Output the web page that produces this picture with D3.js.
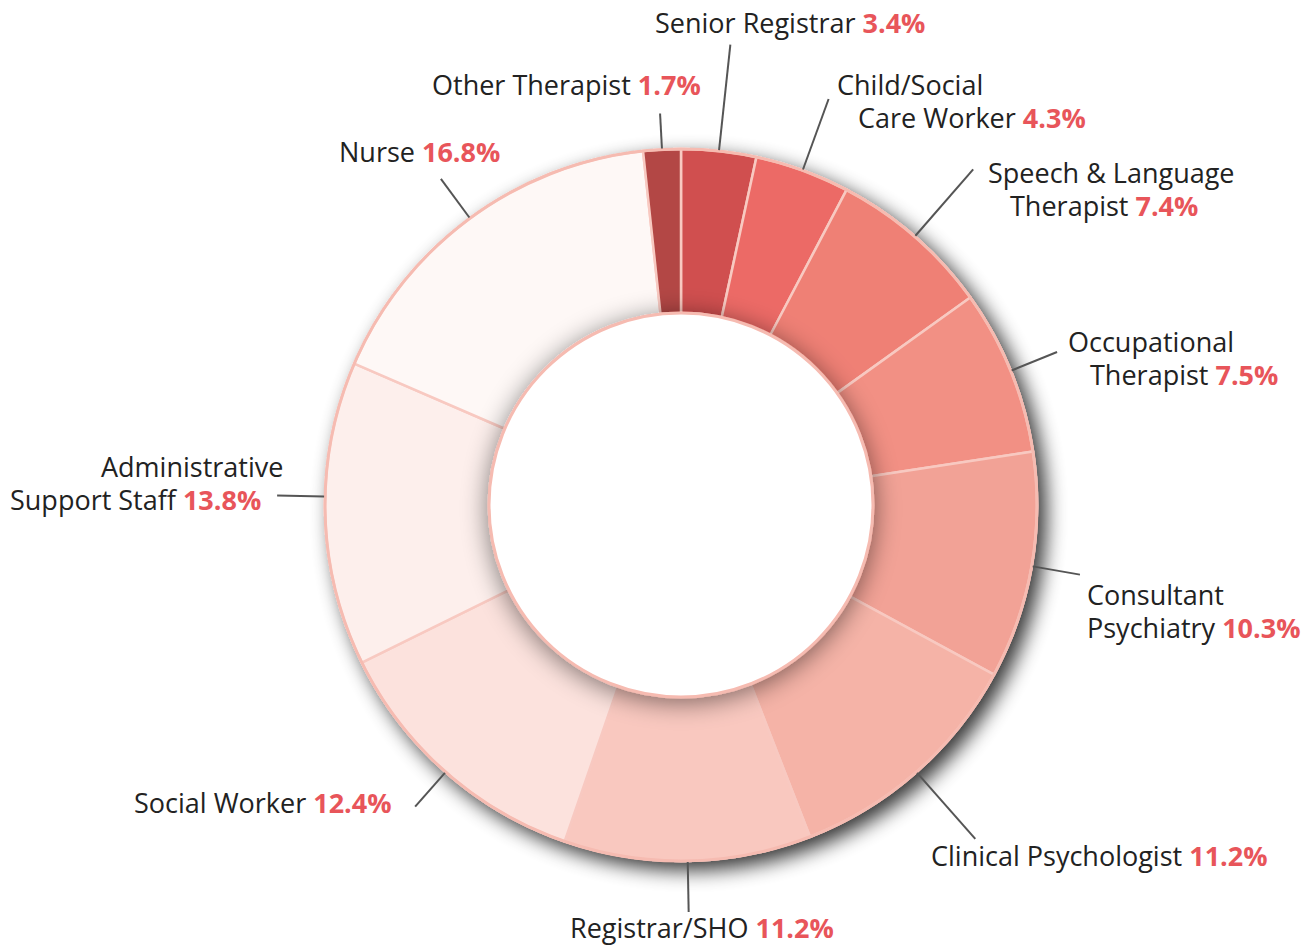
<!DOCTYPE html>
<html>
<head>
<meta charset="utf-8">
<script src="https://cdn.jsdelivr.net/npm/d3@7"></script>
<style>
  body { margin: 0; background: #fff; }
  svg { display: block; font-family: "Open Sans", sans-serif; }
</style>
</head>
<body>
<div class="canvas"></div>
<script>
// data
const categories = ["Senior Registrar", "Child/Social Care Worker", "Speech & Language Therapist",
  "Occupational Therapist", "Consultant Psychiatry", "Clinical Psychologist", "Registrar/SHO",
  "Social Worker", "Administrative Support Staff", "Nurse", "Other Therapist"];
const values = [3.4, 4.3, 7.4, 7.5, 10.3, 11.2, 11.2, 12.4, 13.8, 16.8, 1.7];
const labelLines = [["Senior Registrar"], ["Child/Social", "Care Worker"], ["Speech & Language", "Therapist"],
  ["Occupational", "Therapist"], ["Consultant", "Psychiatry"], ["Clinical Psychologist"], ["Registrar/SHO"],
  ["Social Worker"], ["Administrative", "Support Staff"], ["Nurse"], ["Other Therapist"]];
const sliceColors = ["#d05050", "#ec6b66", "#ef8075", "#f29084", "#f2a296", "#f5b3a7",
  "#f9c8bf", "#fce2dd", "#fdefec", "#fef8f6", "#b34744"];

// layout (label placement per slice)
const labelX = [[655], [837, 858], [988, 1010], [1068, 1090], [1087, 1087], [931], [570], [134], [101, 10], [339], [432]];
const labelY = [33, 95, 183, 352, 605, 866, 938, 813, 477, 162, 95];
const leaderLen = [106, 75, 88, 49, 48, 88, 50, 45, 47, 48, 35];
const leaderNudge = [0, 0, 0, 0, 0, 0, 0, 0, 2.8, 0, 0]; // degrees

const width = 1314, height = 949;
const cx = 681, cy = 505;
const outerR = 356, innerR = 192;
const lineH = 33;

const svg = d3.select('.canvas')
  .append('svg')
  .attr('width', width)
  .attr('height', height);

const defs = svg.append('defs');

// outer drop shadow
const ds = defs.append('filter').attr('id', 'ringShadow')
  .attr('x', '-20%').attr('y', '-20%').attr('width', '140%').attr('height', '140%');
ds.append('feGaussianBlur').attr('in', 'SourceAlpha').attr('stdDeviation', 10);
ds.append('feOffset').attr('dx', 8).attr('dy', 8);
ds.append('feComponentTransfer').append('feFuncA').attr('type', 'linear').attr('slope', 0.8);
const dm = ds.append('feMerge');
dm.append('feMergeNode');
dm.append('feMergeNode').attr('in', 'SourceGraphic');

// soft shadow cast by the centre disc onto the ring
const cs = defs.append('filter').attr('id', 'holeShadow')
  .attr('x', '-30%').attr('y', '-30%').attr('width', '160%').attr('height', '160%');
cs.append('feGaussianBlur').attr('in', 'SourceAlpha').attr('stdDeviation', 13);
cs.append('feOffset').attr('dx', 0).attr('dy', 4);
cs.append('feComponentTransfer').append('feFuncA').attr('type', 'linear').attr('slope', 0.5);
const cm = cs.append('feMerge');
cm.append('feMergeNode');
cm.append('feMergeNode').attr('in', 'SourceGraphic');

const graph = svg.append('g')
  .attr('transform', `translate(${cx}, ${cy})`);

const pie = d3.pie().sort(null).value(d => d);
const arcs = pie(values);

const arc = d3.arc()
  .innerRadius(innerR)
  .outerRadius(outerR);

const ring = graph.append('g').attr('filter', 'url(#ringShadow)');

ring.selectAll('path')
  .data(arcs)
  .enter()
  .append('path')
  .attr('d', arc)
  .attr('fill', (d, i) => sliceColors[i])
  .attr('stroke', '#f8c9c1')
  .attr('stroke-width', 2.5)
  .attr('stroke-linejoin', 'round');

// outer rim
graph.append('circle')
  .attr('r', outerR)
  .attr('fill', 'none')
  .attr('stroke', '#f6bbb1')
  .attr('stroke-width', 3);

// centre disc
graph.append('circle')
  .attr('r', innerR)
  .attr('fill', '#fff')
  .attr('stroke', '#f6bbb1')
  .attr('stroke-width', 3)
  .attr('filter', 'url(#holeShadow)');

// leader lines
const midAngle = (d, i) => (d.startAngle + d.endAngle) / 2 + leaderNudge[i] * Math.PI / 180;

graph.selectAll('line.leader')
  .data(arcs)
  .enter()
  .append('line')
  .attr('class', 'leader')
  .attr('x1', (d, i) => Math.sin(midAngle(d, i)) * (outerR + 1))
  .attr('y1', (d, i) => -Math.cos(midAngle(d, i)) * (outerR + 1))
  .attr('x2', (d, i) => Math.sin(midAngle(d, i)) * (outerR + 1 + leaderLen[i]))
  .attr('y2', (d, i) => -Math.cos(midAngle(d, i)) * (outerR + 1 + leaderLen[i]))
  .attr('stroke', '#555')
  .attr('stroke-width', 2);

// labels: one text element per line, percentage on the last line
const labelGroups = svg.selectAll('g.label')
  .data(arcs)
  .enter()
  .append('g')
  .attr('class', 'label');

labelGroups.each(function (d, i) {
  const g = d3.select(this);
  const lines = labelLines[i];
  lines.forEach((ln, j) => {
    const t = g.append('text')
      .attr('x', labelX[i][j])
      .attr('y', labelY[i] + j * lineH)
      .attr('font-size', 27)
      .attr('fill', '#222')
      .text(ln);
    if (j === lines.length - 1) {
      t.append('tspan')
        .attr('fill', '#e8555a')
        .attr('font-weight', 700)
        .text(' ' + d3.format('.1f')(values[i]) + '%');
    }
  });
});
</script>
</body>
</html>
